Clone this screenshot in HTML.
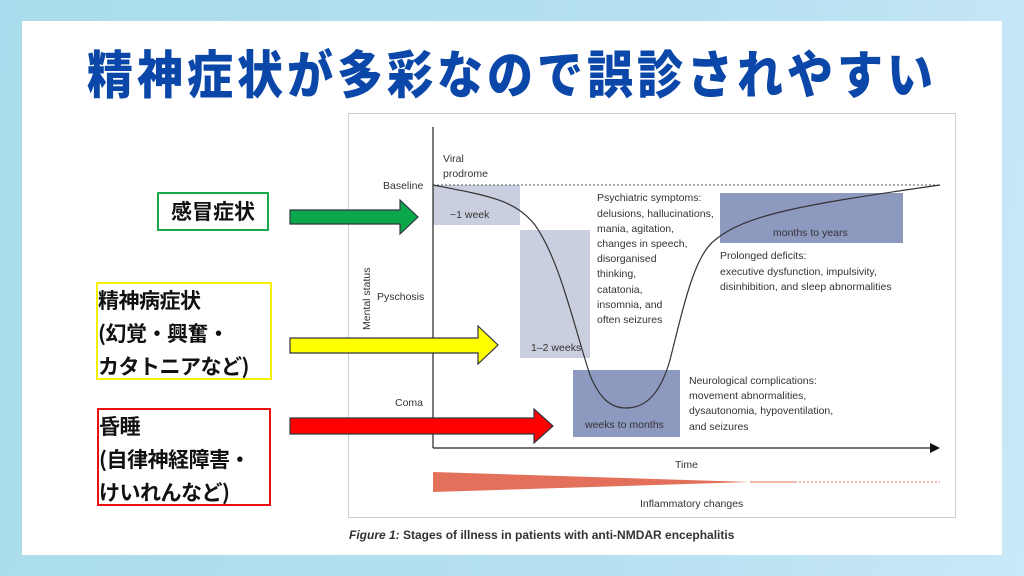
<!DOCTYPE html>
<html><head><meta charset="utf-8"><style>
body{margin:0;width:1024px;height:576px;overflow:hidden;background:linear-gradient(100deg,#a9dcec 0%,#b5e0f0 60%,#c9e8f8 100%);position:relative;font-family:"Liberation Sans","Noto Sans CJK JP",sans-serif}
.card{position:absolute;left:22px;top:21px;width:980px;height:534px;background:#fff}
.title{position:absolute;left:0;width:1024px;top:42px;text-align:center;font-size:46px;font-weight:900;color:#0b47a8;letter-spacing:4px;font-family:"Noto Sans CJK JP",sans-serif;line-height:60px;transform:scaleY(1.12)}
.box{position:absolute;background:#fff;font-weight:bold;font-size:21px;line-height:33px;font-family:"Noto Sans CJK JP",sans-serif;color:#111;box-sizing:border-box;white-space:nowrap}
</style></head><body>
<div class="card"></div>
<div class="title">精神症状が多彩なので誤診されやすい</div>
<div class="box" style="left:157px;top:192px;width:112px;height:39px;border:2px solid #1aa84a;text-align:center;line-height:34px">感冒症状</div>
<div class="box" style="left:96px;top:282px;width:176px;height:98px;border:2px solid #f5f000;padding-left:0;line-height:33px;letter-spacing:-0.5px">精神病症状<br>(幻覚・興奮・<br>カタトニアなど)</div>
<div class="box" style="left:97px;top:408px;width:174px;height:98px;border:2px solid #e81010;padding-left:0;line-height:33px;letter-spacing:-0.5px">昏睡<br>(自律神経障害・<br>けいれんなど)</div>
<svg width="1024" height="576" style="position:absolute;left:0;top:0" font-family="Liberation Sans, sans-serif">
<rect x="348.5" y="113.5" width="607" height="404" fill="#fff" stroke="#c6d2d0"/>
<g fill="#b8bfd6" opacity="0.75"><rect x="433" y="185" width="87" height="40"/><rect x="520" y="230" width="70" height="128"/></g>
<rect x="573" y="370" width="107" height="67" fill="#8e99c0"/>
<rect x="720" y="193" width="183" height="50" fill="#8e99c0"/>
<line x1="433" y1="185" x2="940" y2="185" stroke="#555" stroke-dasharray="2,2"/>
<line x1="433" y1="127" x2="433" y2="448" stroke="#333" stroke-width="1.3"/>
<line x1="433" y1="448" x2="933" y2="448" stroke="#222" stroke-width="1.3"/>
<polygon points="940,448 930,443 930,453" fill="#111"/>
<path d="M433,185 C490,196 515,200 535,225 C560,260 575,330 590,375 C600,400 612,408 626,408 C645,408 660,395 670,360 C685,300 695,255 715,240 C745,215 800,205 940,185" fill="none" stroke="#333" stroke-width="1.2"/>
<polygon points="433,472 750,482 433,492" fill="#e2705a"/>
<line x1="750" y1="482" x2="795" y2="482" stroke="#e2705a" stroke-width="1"/>
<line x1="795" y1="482" x2="940" y2="482" stroke="#e2705a" stroke-dasharray="2,2"/>
<g fill="#333" font-size="10.5">
<text x="443" y="162">Viral</text><text x="443" y="177">prodrome</text>
<text x="383" y="189">Baseline</text>
<text x="377" y="300">Pyschosis</text>
<text x="395" y="406">Coma</text>
<text transform="translate(370,330) rotate(-90)">Mental status</text>
<text x="450" y="218">~1 week</text>
<text x="531" y="351">1–2 weeks</text>
<text x="585" y="428">weeks to months</text>
<text x="773" y="236">months to years</text>
<text x="597" y="201">Psychiatric symptoms:</text>
<text x="597" y="217">delusions, hallucinations,</text>
<text x="597" y="232">mania, agitation,</text>
<text x="597" y="247">changes in speech,</text>
<text x="597" y="262">disorganised</text>
<text x="597" y="277">thinking,</text>
<text x="597" y="293">catatonia,</text>
<text x="597" y="308">insomnia, and</text>
<text x="597" y="323">often seizures</text>
<text x="720" y="259">Prolonged deficits:</text>
<text x="720" y="275">executive dysfunction, impulsivity,</text>
<text x="720" y="290">disinhibition, and sleep abnormalities</text>
<text x="689" y="384">Neurological complications:</text>
<text x="689" y="399">movement abnormalities,</text>
<text x="689" y="414">dysautonomia, hypoventilation,</text>
<text x="689" y="430">and seizures</text>
<text x="675" y="468">Time</text>
<text x="640" y="507">Inflammatory changes</text>
</g>
<text x="349" y="539" font-size="12" font-weight="bold" fill="#333"><tspan font-style="italic">Figure 1:</tspan> Stages of illness in patients with anti-NMDAR encephalitis</text>
<g stroke="#334" stroke-width="1.2">
<polygon points="290,210 400,210 400,200 418,217 400,234 400,224 290,224" fill="#0aa84a"/>
<polygon points="290,338 478,338 478,326 498,345 478,364 478,353 290,353" fill="#ffff00"/>
<polygon points="290,418 534,418 534,409 553,426 534,443 534,434 290,434" fill="#ff0000"/>
</g>
</svg>
</body></html>
